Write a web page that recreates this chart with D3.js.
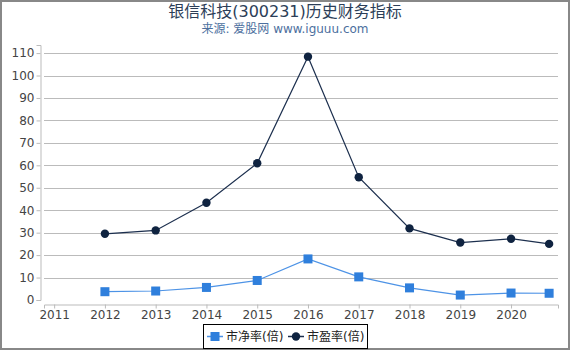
<!DOCTYPE html>
<html>
<head>
<meta charset="utf-8">
<script src="https://cdn.jsdelivr.net/npm/d3@7"></script>
<style>
  body { margin: 0; background: #fff; }
  svg { display: block; font-family: "DejaVu Sans", "Noto Sans CJK SC", sans-serif; }
</style>
</head>
<body>
<svg id="chart" width="570" height="350"></svg>
<script>
// data
var years = [2012, 2013, 2014, 2015, 2016, 2017, 2018, 2019, 2020, 2020.75];
var pbValues = [3.7, 4.0, 5.6, 8.7, 18.3, 10.3, 5.4, 2.2, 3.1, 3.0];
var peValues = [29.5, 31.0, 43.3, 60.9, 108.4, 54.7, 31.9, 25.6, 27.3, 25.0];
var yearTicks = [2011, 2012, 2013, 2014, 2015, 2016, 2017, 2018, 2019, 2020];
var valueTicks = [0, 10, 20, 30, 40, 50, 60, 70, 80, 90, 100, 110];
var seriesNames = ["市净率(倍)", "市盈率(倍)"];

var svg = d3.select("#chart");
var W = 570, H = 350;

// outer frame
svg.append("rect")
  .attr("x", 1).attr("y", 1)
  .attr("width", W - 2).attr("height", H - 2)
  .attr("fill", "#fff")
  .attr("stroke", "#888").attr("stroke-width", 2);

svg.append("text")
  .attr("x", W / 2).attr("y", 17)
  .attr("text-anchor", "middle")
  .attr("font-size", 16)
  .attr("fill", "#2c3e58")
  .text("银信科技(300231)历史财务指标");

svg.append("text")
  .attr("x", W / 2).attr("y", 33)
  .attr("text-anchor", "middle")
  .attr("font-size", 12)
  .attr("fill", "#4c6f9e")
  .text("来源: 爱股网 www.iguuu.com");

var plotLeft = 44, plotRight = 558, plotTop = 45, plotBottom = 300;

var x = d3.scaleLinear()
  .domain([2010.8, 2020.925])
  .range([plotLeft, plotRight]);

var y = d3.scaleLinear()
  .domain([0, 113.6])
  .range([plotBottom, plotTop]);

// gridlines
svg.append("g")
  .selectAll("line")
  .data(valueTicks.slice(1))
  .enter().append("line")
    .attr("x1", plotLeft).attr("x2", plotRight)
    .attr("y1", (d) => Math.round(y(d)) + 0.5).attr("y2", (d) => Math.round(y(d)) + 0.5)
    .attr("stroke", "#bbb");

// y axis, offset 4px to the left
var yAxis = svg.append("g")
  .attr("transform", "translate(" + (plotLeft - 4 + 0.5) + ",0)")
  .call(d3.axisLeft(y).tickValues(valueTicks).tickSize(4).tickPadding(2));

// x axis, offset 4px below
var xAxis = svg.append("g")
  .attr("transform", "translate(0," + (plotBottom + 4 + 0.5) + ")")
  .call(d3.axisBottom(x).tickValues(yearTicks).tickFormat(d3.format("d")).tickSize(4).tickPadding(2));

[yAxis, xAxis].forEach((ax) => {
  ax.select(".domain").attr("stroke", "#bbb");
  ax.selectAll(".tick line").attr("stroke", "#bbb");
  ax.selectAll(".tick text")
    .attr("fill", "#444")
    .attr("font-size", 12)
    .attr("font-family", "DejaVu Sans, sans-serif");
});

var pbColor = "#2f7fdc", peColor = "#0f2340";

var line = d3.line()
  .x((d) => x(d[0]))
  .y((d) => y(d[1]));

var pbData = years.map((yr, i) => [yr, pbValues[i]]);
var peData = years.map((yr, i) => [yr, peValues[i]]);

svg.append("path")
  .datum(pbData)
  .attr("d", line)
  .attr("fill", "none")
  .attr("stroke", "#4d93e6")
  .attr("stroke-width", 1.2);

svg.append("g")
  .selectAll("rect")
  .data(pbData)
  .enter().append("rect")
    .attr("x", (d) => x(d[0]) - 4.5)
    .attr("y", (d) => y(d[1]) - 4.5)
    .attr("width", 9).attr("height", 9)
    .attr("fill", pbColor);

svg.append("path")
  .datum(peData)
  .attr("d", line)
  .attr("fill", "none")
  .attr("stroke", "#1c2f4e")
  .attr("stroke-width", 1.2);

svg.append("g")
  .selectAll("circle")
  .data(peData)
  .enter().append("circle")
    .attr("cx", (d) => x(d[0]))
    .attr("cy", (d) => y(d[1]))
    .attr("r", 4.2)
    .attr("fill", peColor);

// legend
var legend = svg.append("g").attr("transform", "translate(203,324)");
legend.append("rect")
  .attr("x", 0.5).attr("y", 0.5)
  .attr("width", 164).attr("height", 24)
  .attr("fill", "#fff")
  .attr("stroke", "#000");

var items = legend.selectAll("g.item")
  .data(seriesNames)
  .enter().append("g")
    .attr("class", "item")
    .attr("transform", (d, i) => "translate(" + (4 + i * 81) + ",12.5)");

items.append("line")
  .attr("x1", 0).attr("x2", 16)
  .attr("stroke", (d, i) => i == 0 ? "#4d93e6" : "#1c2f4e")
  .attr("stroke-width", 1.5);

items.each(function(d, i) {
  var g = d3.select(this);
  if (i == 0) {
    g.append("rect").attr("x", 3.5).attr("y", -4.5).attr("width", 9).attr("height", 9).attr("fill", pbColor);
  } else {
    g.append("circle").attr("cx", 8).attr("cy", 0).attr("r", 4.2).attr("fill", peColor);
  }
});

items.append("text")
  .attr("x", 19).attr("y", 4.5)
  .attr("font-size", 12)
  .attr("fill", "#222")
  .text((d) => d);
</script>
</body>
</html>
